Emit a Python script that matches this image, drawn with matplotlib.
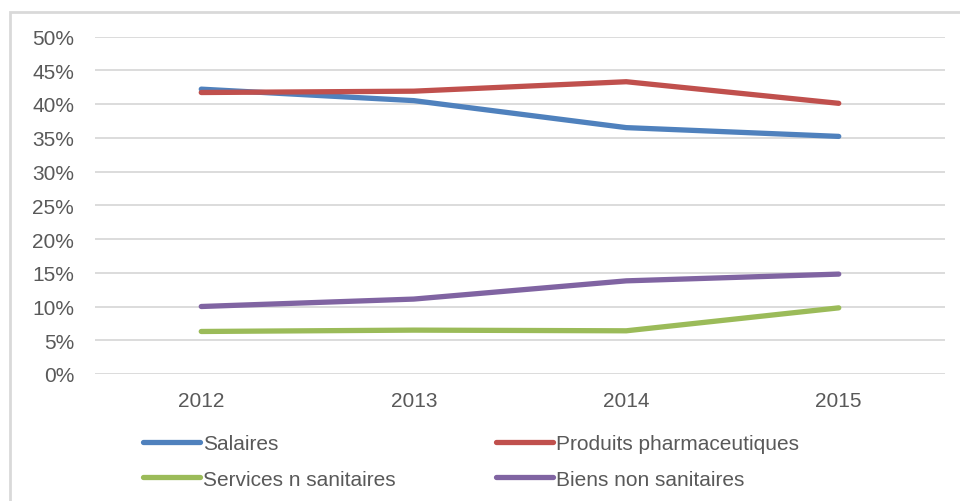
import matplotlib
matplotlib.use("Agg")
import matplotlib.pyplot as plt
from matplotlib.patches import Rectangle
from matplotlib.ticker import PercentFormatter

years = ["2012", "2013", "2014", "2015"]
salaires = [0.422, 0.405, 0.365, 0.352]
produits_pharma = [0.417, 0.419, 0.433, 0.401]
services_n_sanitaires = [0.063, 0.065, 0.064, 0.098]
biens_non_sanitaires = [0.100, 0.111, 0.138, 0.148]

series = [
    ("Salaires", salaires, "#4F81BD"),
    ("Produits pharmaceutiques", produits_pharma, "#C0504D"),
    ("Services n sanitaires", services_n_sanitaires, "#9BBB59"),
    ("Biens non sanitaires", biens_non_sanitaires, "#8064A2"),
]

plt.rcParams["font.family"] = ["Liberation Sans", "DejaVu Sans"]
FS = 15
TXT = "#595959"

W, H = 960, 502
fig = plt.figure(figsize=(W / 100, H / 100), dpi=100)
fig.patch.set_facecolor("white")

# outer chart border
fig.patches.append(Rectangle((10 / W, -0.1), 1.2, (H - 13) / H + 0.1,
                             transform=fig.transFigure, fill=False,
                             edgecolor="#D9D9D9", linewidth=2.0, zorder=0))

ax = fig.add_axes([95 / W, (H - 375) / H, (945 - 95) / W, 337.5 / H])
x = range(len(years))
for name, vals, col in series:
    ax.plot(x, vals, color=col, linewidth=3.8, solid_capstyle="round",
            solid_joinstyle="round", label=name, zorder=3)

ax.set_xlim(-0.5, len(years) - 0.5)
ax.set_ylim(0, 0.5)
ax.set_yticks([i * 0.05 for i in range(11)])
ax.yaxis.set_major_formatter(PercentFormatter(1.0, decimals=0))
ax.set_xticks(list(x))
ax.set_xticklabels(years)
ax.grid(axis="y", color="#D9D9D9", linewidth=1.3, zorder=0)
ax.set_axisbelow(True)
for s in ax.spines.values():
    s.set_visible(False)
ax.tick_params(axis="both", length=0, labelsize=FS, labelcolor=TXT)
ax.tick_params(axis="y", pad=15)
ax.tick_params(axis="x", pad=12)

# legend laid out row by row: two entries per row
handles, labels = ax.get_legend_handles_labels()
order = [0, 2, 1, 3]
leg = fig.legend([handles[i] for i in order], [labels[i] for i in order],
                 ncol=2, loc="upper left",
                 bbox_to_anchor=(143 / W, (H - 435) / H), frameon=False,
                 fontsize=FS, handlelength=2.75, handletextpad=0.15,
                 columnspacing=4.8, labelspacing=0.8, borderpad=0,
                 borderaxespad=0)
for t in leg.get_texts():
    t.set_color(TXT)

fig.savefig("out.png", dpi=100, facecolor="white")
